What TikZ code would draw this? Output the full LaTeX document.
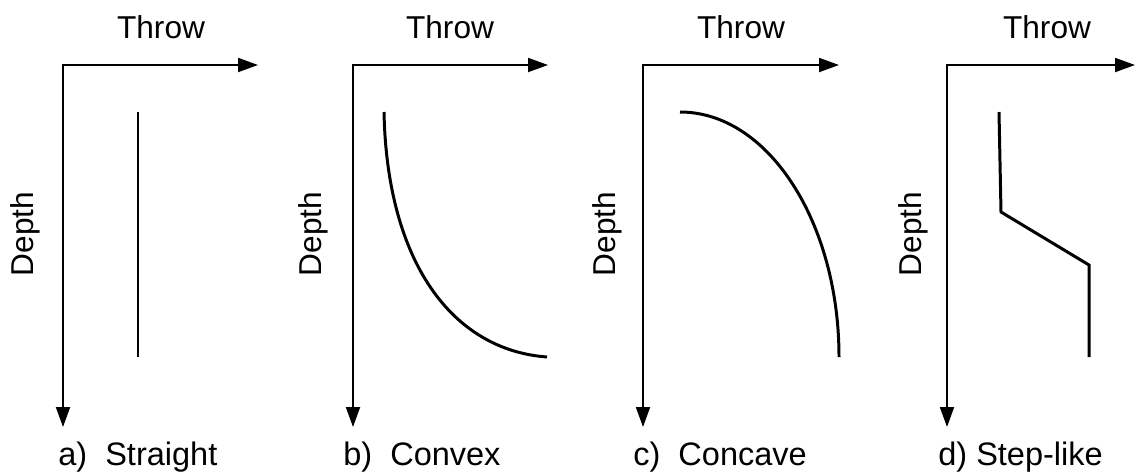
\documentclass[tikz,border=0pt]{standalone}
\usepackage{fontspec}
\setmainfont{Liberation Sans}
\usetikzlibrary{arrows.meta}

\begin{document}
\begin{tikzpicture}[x=0.02cm,y=-0.02cm]
\tikzset{
  axisline/.style={draw=black,line width=1.1pt,<->,>={Triangle[length=4mm,width=2.8mm]}},
  faultline/.style={draw=black,line width=1.7pt,line join=miter},
  axislabel/.style={font=\fontsize{18}{22}\selectfont,inner sep=0pt},
  panellabel/.style={axislabel,font=\fontsize{18.5}{22}\selectfont,anchor=base west}
}
\useasboundingbox (0,0) rectangle (1136,474);
% a) straight
\coordinate (a_o) at (63,65);
\coordinate (a_x) at (258,65);
\coordinate (a_y) at (63,427);
\draw[axisline] (a_y) -- (a_o) -- (a_x);
\node[axislabel,anchor=base] (a_throw) at (161,38) {Throw};
\node[axislabel,rotate=90] (a_depth) at (25,234) {Depth};
\node[panellabel] (a_label) at (58,465) {a)\ \ Straight};
\draw[faultline] (138,112) -- (138,357);
% b) convex
\coordinate (b_o) at (353,65);
\coordinate (b_x) at (548,65);
\coordinate (b_y) at (353,427);
\draw[axisline] (b_y) -- (b_o) -- (b_x);
\node[axislabel,anchor=base] (b_throw) at (450,38) {Throw};
\node[axislabel,rotate=90] (b_depth) at (313,234) {Depth};
\node[panellabel] (b_label) at (343,465) {b)\ \ Convex};
\draw[faultline] (384,112) .. controls (387,262) and (452,350) .. (547,357);
% c) concave
\coordinate (c_o) at (643,65);
\coordinate (c_x) at (839,65);
\coordinate (c_y) at (643,427);
\draw[axisline] (c_y) -- (c_o) -- (c_x);
\node[axislabel,anchor=base] (c_throw) at (741,38) {Throw};
\node[axislabel,rotate=90] (c_depth) at (607,234) {Depth};
\node[panellabel] (c_label) at (633,465) {c)\ \ Concave};
\draw[faultline] (680,112) .. controls (768,112) and (839,222) .. (839,357);
% d) step-like
\coordinate (d_o) at (947,65);
\coordinate (d_x) at (1135,65);
\coordinate (d_y) at (947,427);
\draw[axisline] (d_y) -- (d_o) -- (d_x);
\node[axislabel,anchor=base] (d_throw) at (1047,38) {Throw};
\node[axislabel,rotate=90] (d_depth) at (913,234) {Depth};
\node[panellabel] (d_label) at (938,465) {d) Step-like};
\draw[faultline] (999,112) -- (1001,212) -- (1089,265) -- (1089,357);
\end{tikzpicture}
\end{document}
